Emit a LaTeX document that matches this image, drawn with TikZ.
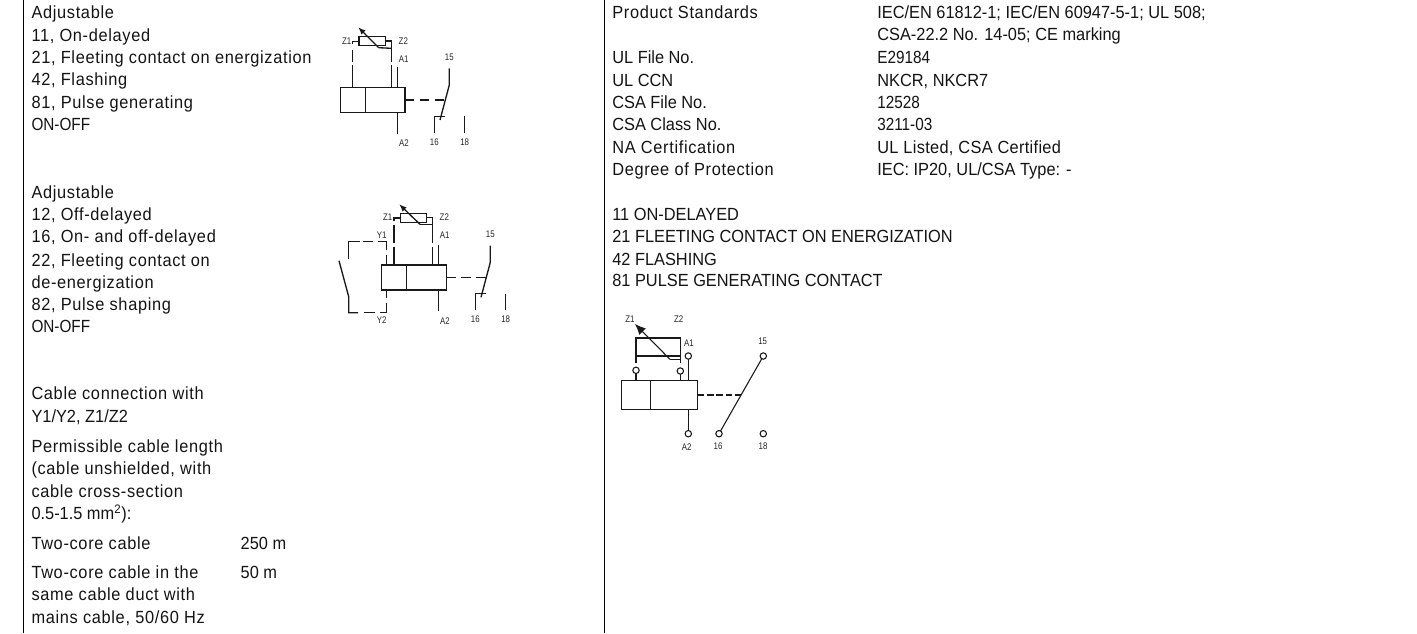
\documentclass[tikz,border=0pt]{standalone}
\usepackage{fontspec}
\setmainfont{Liberation Sans}
\newfontfamily\fmix[FakeStretch=0.93,LetterSpace=3.8]{Liberation Sans}
\newfontfamily\fhalf[FakeStretch=0.93,LetterSpace=1.8]{Liberation Sans}
\newfontfamily\fcap[FakeStretch=0.93]{Liberation Sans}
\newfontfamily\fnum[FakeStretch=0.87]{Liberation Sans}
\newfontfamily\narrowlabel[FakeStretch=0.82]{Liberation Sans}
\usetikzlibrary{arrows.meta}
\tikzset{
  txt/.style={anchor=base west,inner sep=0pt,outer sep=0pt,font=\fmix\fontsize{13.2}{15}\selectfont,text=black!92},
  txtcap/.style={txt,font=\fcap\fontsize{13.2}{15}\selectfont},
  txthalf/.style={txt,font=\fhalf\fontsize{13.2}{15}\selectfont},
  txtnum/.style={txt,font=\fnum\fontsize{13.2}{15}\selectfont},
  pin/.style={inner sep=0pt,outer sep=0pt,font=\narrowlabel\fontsize{7.2}{8}\selectfont,text=black!85},
  wire/.style={line width=1pt,black!90},
  thin wire/.style={line width=0.8pt,black!90},
  dash wire/.style={line width=1pt,black!90,dash pattern=on 7pt off 4.2pt},
  rule/.style={line width=0.9pt,black},
  term/.style={circle,draw=black!90,line width=0.8pt,fill=white,minimum size=4.8pt,inner sep=0pt,outer sep=0pt},
  wiper/.style={line width=1pt,black!90,-{Latex[length=5.5pt,width=4.5pt]}},
  wiper big/.style={line width=0.8pt,black!90,-{Latex[length=8pt,width=7pt]}}
}
\newcommand{\tl}[5][txt]{\node[#1] (#2) at (#3,#4) {#5};}
\begin{document}
\begin{tikzpicture}[x=0.75pt,y=-0.75pt]
\useasboundingbox (0,0) rectangle (1417,633);
\fill[white] (0,0) rectangle (1417,633);
\coordinate (lt) at (23.7,0); \coordinate (lb) at (23.7,633);
\coordinate (rt) at (604.5,0); \coordinate (rb) at (604.5,633);
\draw[rule] (lt) -- (lb);
\draw[rule] (rt) -- (rb);
% left column
\tl{a1}{31.5}{18.3}{Adjustable}
\tl{a2}{31.5}{41}{11, On-delayed}
\tl{a3}{31.5}{63.3}{21, Fleeting contact on energization}
\tl{a4}{31.5}{85.5}{42, Flashing}
\tl{a5}{31.5}{108.3}{81, Pulse generating}
\tl[txtnum]{a6}{31.5}{130.7}{ON-OFF}
\tl{b1}{31.5}{198}{Adjustable}
\tl{b2}{31.5}{220.7}{12, Off-delayed}
\tl{b3}{31.5}{242.7}{16, On- and off-delayed}
\tl{b4}{31.5}{266}{22, Fleeting contact on}
\tl{b5}{31.5}{288}{de-energization}
\tl{b6}{31.5}{310.7}{82, Pulse shaping}
\tl[txtnum]{b7}{31.5}{332.7}{ON-OFF}
\tl{c1}{31.5}{399.5}{Cable connection with}
\tl[txtcap]{c2}{31.5}{422.5}{Y1/Y2, Z1/Z2}
\tl{c3}{31.5}{452}{Permissible cable length}
\tl{c4}{31.5}{474.7}{(cable unshielded, with}
\tl{c5}{31.5}{497}{cable cross-section}
\tl[txtcap]{c6}{31.5}{519.7}{0.5-1.5 mm\textsuperscript{2}):}
\tl{c7}{31.5}{549}{Two-core cable}
\tl[txtcap]{c8}{240.7}{549}{250 m}
\tl{c9}{31.5}{578}{Two-core cable in the}
\tl[txtcap]{c10}{240.7}{578}{50 m}
\tl{c11}{31.5}{600.7}{same cable duct with}
\tl{c12}{31.5}{623}{mains cable, 50/60 Hz}
% right column
\tl{d1}{612.3}{18}{Product Standards}
\tl[txtcap]{d2}{877.3}{18}{IEC/EN 61812-1; IEC/EN 60947-5-1; UL 508;}
\tl[txtcap]{d3}{877.3}{40.7}{CSA-22.2 No. 14-05; CE marking}
\tl[txtcap]{d4}{612.3}{63.3}{UL File No.}
\tl[txtnum]{d5}{877.3}{63.3}{E29184}
\tl[txtcap]{d6}{612.3}{86}{UL CCN}
\tl[txtcap]{d7}{877.3}{86}{NKCR, NKCR7}
\tl[txtcap]{d8}{612.3}{108}{CSA File No.}
\tl[txtnum]{d9}{877.3}{108}{12528}
\tl[txtcap]{d10}{612.3}{130.7}{CSA Class No.}
\tl[txtnum]{d11}{877.3}{130.7}{3211-03}
\tl{d12}{612.3}{153.3}{NA Certification}
\tl[txthalf]{d13}{877.3}{153.3}{UL Listed, CSA Certified}
\tl{d14}{612.3}{175.3}{Degree of Protection}
\tl[txtcap]{d15}{877.3}{175.3}{IEC: IP20, UL/CSA Type: -}
\tl[txtcap]{e1}{612.3}{220}{11 ON-DELAYED}
\tl[txtcap]{e2}{612.3}{242.7}{21 FLEETING CONTACT ON ENERGIZATION}
\tl[txtcap]{e3}{612.3}{265}{42 FLASHING}
\tl[txtcap]{e4}{612.3}{286.7}{81 PULSE GENERATING CONTACT}
% diagram 1
\draw[wire] (340.7,87.7) rectangle (405,112.7);
\draw[wire] (365.3,87.7) -- (365.3,112.7);
\draw[thin wire] (359,36.7) rectangle (385.3,45.3);
\draw[thin wire] (359,41.7) -- (352.7,41.7) -- (352.7,44);
\draw[thin wire] (352.7,50) -- (352.7,61.5);
\draw[wire] (352.7,65) -- (352.7,87.7);
\draw[thin wire] (385.3,41) -- (391.3,41) -- (391.3,61.5);
\draw[wire] (391.3,65) -- (391.3,87.7);
\draw[wire] (391.3,48.3) -- (378.7,47.7);
\draw[wiper] (378.7,47.7) -- (358.3,27.3);
\draw[wire] (397.7,66.7) -- (397.7,87.7);
\draw[wire] (397.7,112.7) -- (397.7,133.7);
\draw[dash wire] (405,100) -- (445.3,100);
\draw[wire] (449.3,68.3) -- (449.3,85) -- (440,120);
\draw[wire] (434.3,132.7) -- (434.3,116.3) -- (445,116.3);
\draw[wire] (464.7,116.3) -- (464.7,132.7);
\node[pin] (p1) at (346.7,40.7) {Z1};
\node[pin] (p2) at (403.3,40.7) {Z2};
\node[pin] (p3) at (403.7,58.7) {A1};
\node[pin] (p4) at (449.3,57.3) {15};
\node[pin] (p5) at (404,143.3) {A2};
\node[pin] (p6) at (434.3,142.3) {16};
\node[pin] (p7) at (464.7,142.3) {18};
% diagram 2
\draw[wire] (381.7,265) rectangle (446.3,290);
\draw[wire] (406.3,265) -- (406.3,290);
\draw[thin wire] (400.3,213.3) rectangle (426.3,222.3);
\draw[thin wire] (400.3,218) -- (394,218) -- (394,221);
\draw[thin wire] (394,225) -- (394,243);
\draw[wire] (394,247) -- (394,265);
\draw[thin wire] (426.3,217.7) -- (432.3,217.7) -- (432.3,243);
\draw[wire] (432.3,247) -- (432.3,265);
\draw[wire] (432.3,224.3) -- (420,224.3);
\draw[wiper] (420,224.3) -- (399.3,204.3);
\draw[wire] (438.7,245) -- (438.7,265);
\draw[wire] (438.7,290) -- (438.7,310.7);
\draw[dash wire] (446.3,277.7) -- (485.7,277.7);
\draw[wire] (490.3,245.6) -- (490.3,262.3) -- (481,297.3);
\draw[wire] (475.3,310) -- (475.3,293.6) -- (486,293.6);
\draw[wire] (505.7,293.6) -- (505.7,310);
\draw[wire] (386.7,265) -- (386.7,255);
\draw[wire] (386.7,250) -- (386.7,241.7) -- (378,241.7);
\draw[wire] (373,241.7) -- (363,241.7);
\draw[wire] (360,241.7) -- (348.7,241.7) -- (348.7,259);
\draw[wire] (386.7,290) -- (386.7,298);
\draw[wire] (386.7,302.7) -- (386.7,312.7) -- (380,312.7);
\draw[wire] (375,312.7) -- (364,312.7);
\draw[wire] (358,312.7) -- (348.7,312.7) -- (348.7,296.7) -- (339,260.7);
\node[pin] (q1) at (387.7,217.3) {Z1};
\node[pin] (q2) at (444.3,217.3) {Z2};
\node[pin] (q3) at (444.7,235) {A1};
\node[pin] (q4) at (490.3,234.6) {15};
\node[pin] (q5) at (445,320.7) {A2};
\node[pin] (q6) at (475.3,319.6) {16};
\node[pin] (q7) at (505.7,319.6) {18};
\node[pin] (q8) at (381.7,235.5) {Y1};
\node[pin] (q9) at (381.7,320) {Y2};
% diagram 3
\draw[thin wire] (621.7,380.3) rectangle (697.7,409.3);
\draw[thin wire] (650.7,380.3) -- (650.7,409.3);
\draw[thin wire] (636,362.7) -- (636,338) -- (680.7,338) -- (680.7,362.7);
\draw[thin wire] (636,356) -- (680.7,356);
\draw[thin wire] (680.7,359.3) -- (670,359.3);
\draw[wiper big] (670,359.3) -- (635,324);
\node[term] (t1) at (636,370.3) {};
\node[term] (t2) at (680.3,371) {};
\node[term] (tA1) at (688.3,356) {};
\node[term] (tA2) at (688.3,433.7) {};
\node[term] (t15) at (763.3,356) {};
\node[term] (t16) at (719,433.7) {};
\node[term] (t18) at (763.3,433.7) {};
\coordinate (b1) at (636,380.3);
\coordinate (b2) at (680.3,380.3);
\coordinate (bA1) at (688.3,380.3);
\coordinate (bA2) at (688.3,409.3);
\draw[thin wire] (t1) -- (b1);
\draw[thin wire] (t2) -- (b2);
\draw[thin wire] (tA1) -- (bA1);
\draw[thin wire] (tA2) -- (bA2);
\draw[thin wire] (t15) -- (t16);
\draw[wire,dash pattern=on 5pt off 2pt] (697.7,395) -- (740.7,395);
\node[pin] (r1) at (630,318.7) {Z1};
\node[pin] (r2) at (678.7,318.7) {Z2};
\node[pin] (r3) at (689,343.3) {A1};
\node[pin] (r4) at (762.7,341.3) {15};
\node[pin] (r5) at (686.7,446.7) {A2};
\node[pin] (r6) at (718,445.7) {16};
\node[pin] (r7) at (763,445.7) {18};
\end{tikzpicture}
\end{document}
